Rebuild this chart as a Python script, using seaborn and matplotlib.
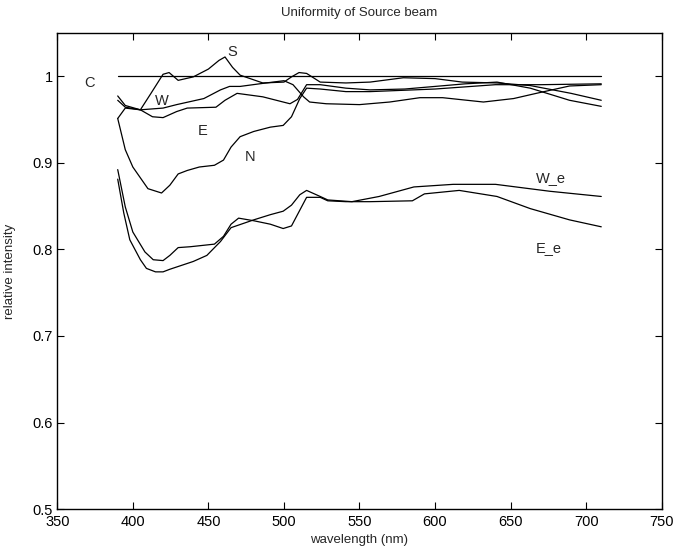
import matplotlib
matplotlib.use("Agg")
import matplotlib.pyplot as plt
import seaborn as sns
import pandas as pd

# ---- data ----
C_wl = [390, 710]
C = [1.0, 1.0]

S_wl = [390, 395, 400, 405, 412, 420, 424, 430, 440, 450, 457, 461, 466, 471, 486, 500, 505, 510,
        515, 524, 541, 557, 579, 600, 618, 641, 663, 690, 710]
S = [0.951, 0.963, 0.962, 0.961, 0.980, 1.002, 1.004, 0.995, 0.999, 1.008, 1.018, 1.022, 1.010, 1.001,
     0.992, 0.993, 0.999, 1.004, 1.003, 0.993, 0.992, 0.993, 0.998, 0.997, 0.993, 0.992, 0.989, 0.980, 0.972]

W_wl = [390, 395, 405, 420, 429, 447, 458, 464, 471, 486, 500, 506, 513, 517, 528, 550, 570, 590,
        605, 632, 652, 667, 689, 710]
W = [0.977, 0.966, 0.961, 0.963, 0.967, 0.974, 0.984, 0.988, 0.988, 0.9915, 0.9946, 0.990, 0.976,
     0.970, 0.968, 0.967, 0.970, 0.975, 0.975, 0.970, 0.974, 0.980, 0.9885, 0.990]

E_wl = [390, 395, 405, 413, 420, 429, 436, 455, 461, 469, 486, 495, 504, 509, 515, 524, 541, 557,
        580, 600, 620, 641, 663, 689, 710]
E = [0.972, 0.964, 0.961, 0.953, 0.952, 0.959, 0.963, 0.964, 0.972, 0.980, 0.976, 0.972, 0.968, 0.973,
     0.990, 0.990, 0.986, 0.984, 0.985, 0.988, 0.991, 0.993, 0.986, 0.972, 0.965]

N_wl = [390, 395, 400, 410, 419, 424.5, 430, 436, 444, 454, 460, 465, 471, 480, 491, 499.5, 505,
        510.5, 515, 524, 541, 557, 600, 640, 670, 710]
N = [0.951, 0.915, 0.895, 0.870, 0.865, 0.874, 0.887, 0.891, 0.895, 0.897, 0.903, 0.918, 0.930, 0.936,
     0.941, 0.943, 0.953, 0.974, 0.986, 0.985, 0.982, 0.982, 0.985, 0.990, 0.990, 0.991]

Ee_wl = [390, 395, 400, 408, 413.5, 420, 424.5, 430, 438, 454, 460, 465, 470, 480, 491, 499.5, 505,
         515, 524, 529, 541, 557, 585, 593, 616, 641, 663, 689, 710]
Ee = [0.892, 0.849, 0.820, 0.797, 0.788, 0.787, 0.793, 0.802, 0.803, 0.806, 0.815, 0.829, 0.836, 0.833,
      0.829, 0.824, 0.827, 0.860, 0.860, 0.856, 0.855, 0.855, 0.856, 0.864, 0.868, 0.861, 0.847, 0.834, 0.826]

We_wl = [390, 394, 398, 405, 409, 415, 420, 424.5, 440, 449, 458, 465, 470, 480, 491, 499.5, 505,
         510.5, 515, 524, 529, 545, 563, 586, 612, 640, 676, 710]
We = [0.881, 0.842, 0.811, 0.788, 0.778, 0.774, 0.774, 0.777, 0.786, 0.793, 0.809, 0.825, 0.828, 0.834,
      0.840, 0.844, 0.851, 0.863, 0.868, 0.861, 0.857, 0.855, 0.861, 0.872, 0.875, 0.875, 0.867, 0.861]

label_text = ["C", "S", "W", "E", "N", "W_e", "E_e"]
label_x = [371.5, 465.5, 419.5, 446, 477.5, 676.5, 675]
label_y = [0.992, 1.028, 0.971, 0.937, 0.907, 0.882, 0.801]

x_ticks = [350, 400, 450, 500, 550, 600, 650, 700, 750]
y_ticks = [0.5, 0.6, 0.7, 0.8, 0.9, 1.0]
y_tick_labels = ["0.5", "0.6", "0.7", "0.8", "0.9", "1"]

# ---- plotting ----
sns.set_style("ticks")
plt.rcParams["font.family"] = ["Liberation Sans", "DejaVu Sans"]
plt.rcParams["font.size"] = 9.5

fig = plt.figure(figsize=(6.77, 5.56), dpi=100)
ax = fig.add_axes([0.0846, 0.084, 0.9774 - 0.0846, 0.9412 - 0.084])

curves = [(C_wl, C), (S_wl, S), (W_wl, W), (E_wl, E), (N_wl, N), (Ee_wl, Ee), (We_wl, We)]
for wl, val in curves:
    df = pd.DataFrame({"wavelength": wl, "intensity": val})
    sns.lineplot(data=df, x="wavelength", y="intensity", ax=ax, color="black",
                 linewidth=0.9, sort=False, estimator=None)

for t, x, y in zip(label_text, label_x, label_y):
    ax.text(x, y, t, ha="center", va="center", fontsize=10.5)

ax.set_xlim(350, 750)
ax.set_ylim(0.5, 1.05)
ax.set_xticks(x_ticks)
ax.set_xticklabels([str(v) for v in x_ticks])
ax.set_yticks(y_ticks)
ax.set_yticklabels(y_tick_labels)
ax.tick_params(direction="in", length=5, width=0.8, top=True, right=True,
               labelsize=10.5, colors="black")
ax.tick_params(axis="x", pad=4)
ax.tick_params(axis="y", pad=3)
for sp in ax.spines.values():
    sp.set_visible(True)
    sp.set_linewidth(1.0)
    sp.set_color("black")

ax.set_xlabel("wavelength (nm)", fontsize=9.5, labelpad=4)
ax.set_ylabel("relative intensity", fontsize=9.5, labelpad=12)
ax.set_title("Uniformity of Source beam", fontsize=9.5, pad=12)

fig.savefig("out.png", dpi=100)
